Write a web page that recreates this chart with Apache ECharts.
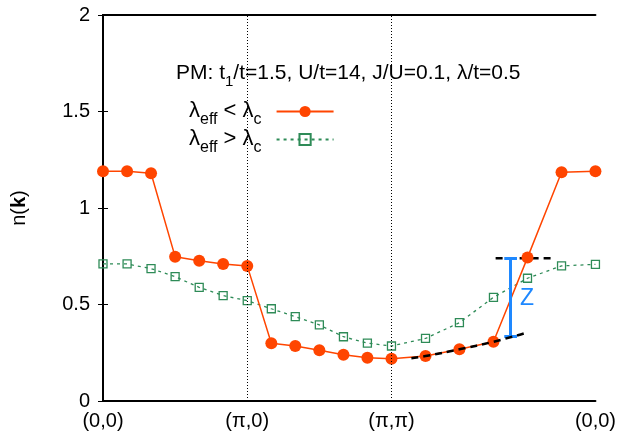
<!DOCTYPE html>
<html>
<head>
<meta charset="utf-8">
<script src="https://cdn.jsdelivr.net/npm/echarts@6/dist/echarts.min.js"></script>
<style>html,body{margin:0;padding:0;background:#fff;}#c{width:619px;height:439px;}</style>
</head>
<body>
<div id="c"></div>
<script>
// k-path positions: (0,0)->(pi,0)->(pi,pi)->(0,0), in units of pi along the path
const kPath = [0, 0.167, 0.333, 0.5, 0.667, 0.833, 1, 1.167, 1.333, 1.5, 1.667, 1.833, 2, 2.236, 2.471, 2.707, 2.943, 3.179, 3.414];
const redValues = [1.19, 1.19, 1.18, 0.748, 0.727, 0.71, 0.70, 0.299, 0.285, 0.263, 0.24, 0.224, 0.219, 0.233, 0.268, 0.307, 0.743, 1.185, 1.19];
const greenValues = [0.71, 0.71, 0.686, 0.644, 0.589, 0.546, 0.52, 0.478, 0.437, 0.394, 0.333, 0.30, 0.285, 0.324, 0.406, 0.537, 0.636, 0.70, 0.708];
const xTickValues = [0, 1, 2, 3.414];
const xTickLabels = ['(0,0)', '(\u03c0,0)', '(\u03c0,\u03c0)', '(0,0)'];
const fitCurveX = [2.138, 2.236, 2.471, 2.707, 2.917];
const fitCurveY = [0.222, 0.233, 0.268, 0.307, 0.35];
const topLevelX = [2.722, 3.103];
const topLevelY = 0.739;
const zBarX = 2.826, zBarTop = 0.739, zBarBottom = 0.333, zCapHalf = 0.044;
const seriesNames = ['lt', 'gt'];

const FONT = 'Liberation Sans, Arial, Helvetica, sans-serif';
const pair = (xs, ys) => xs.map((x, i) => [x, ys[i]]);

const chart = echarts.init(document.getElementById('c'));
const titleRich = {
  n: { fontSize: 21, fontFamily: FONT, fontWeight: 'normal', color: '#000', lineHeight: 24, verticalAlign: 'bottom' },
  s: { fontSize: 15, fontFamily: FONT, fontWeight: 'normal', color: '#000', lineHeight: 24, verticalAlign: 'bottom', padding: [0, 0, -5, 0] }
};
const legendRich = {
  n: { fontSize: 22, fontFamily: FONT, fontWeight: 'normal', color: '#000', lineHeight: 21, verticalAlign: 'bottom' },
  s: { fontSize: 16, fontFamily: FONT, fontWeight: 'normal', color: '#000', lineHeight: 21, verticalAlign: 'bottom', padding: [0, 0, -6, 0] },
  g: { width: 10 }
};
chart.setOption({
  animation: false,
  backgroundColor: '#fff',
  title: {
    text: '{n|PM: t}{s|1}{n|/t=1.5, U/t=14, J/U=0.1, \u03bb/t=0.5}',
    left: 171, top: 55,
    textStyle: { fontWeight: 'normal', rich: titleRich }
  },
  legend: {
    orient: 'vertical',
    left: 184, top: 95,
    align: 'right',
    itemWidth: 57, itemHeight: 14, itemGap: 0,
    data: seriesNames,
    formatter: function (name) {
      return name === 'lt'
        ? '{n|\u03bb}{s|eff}{n| < \u03bb}{s|c}{g|}'
        : '{n|\u03bb}{s|eff}{n| > \u03bb}{s|c}{g|}';
    },
    textStyle: { rich: legendRich }
  },
  grid: { left: 103, right: 22, top: 15, bottom: 38 },
  xAxis: [{
    type: 'value', min: 0, max: 3.414,
    axisLine: { show: true, onZero: false, lineStyle: { color: '#000', width: 2 } },
    axisTick: { show: false },
    splitLine: { show: false },
    axisLabel: {
      customValues: xTickValues,
      formatter: function (v) {
        const i = xTickValues.findIndex(t => Math.abs(t - v) < 1e-6);
        return i >= 0 ? xTickLabels[i] : '';
      },
      fontSize: 20, fontFamily: FONT, color: '#000', margin: 10
    }
  }, {
    type: 'value', min: 0, max: 3.414, position: 'top',
    axisLine: { show: true, onZero: false, lineStyle: { color: '#000', width: 2 } },
    axisTick: { show: false }, axisLabel: { show: false }, splitLine: { show: false }
  }],
  yAxis: [{
    type: 'value', min: 0, max: 2, interval: 0.5,
    name: '{n|n(}{b|k}{n|)}',
    nameLocation: 'middle', nameGap: 74, nameRotate: 90,
    nameTextStyle: { rich: {
      n: { fontSize: 20, fontFamily: FONT, color: '#000' },
      b: { fontSize: 20, fontFamily: FONT, color: '#000', fontWeight: 'bold' }
    } },
    axisLine: { show: true, lineStyle: { color: '#000', width: 2 } },
    axisTick: { show: true, inside: true, length: 5, lineStyle: { color: '#000', width: 1 } },
    splitLine: { show: false },
    axisLabel: { fontSize: 20, fontFamily: FONT, color: '#000', margin: 13 }
  }, {
    type: 'value', min: 0, max: 2, interval: 0.5, position: 'right',
    axisLine: { show: true, lineStyle: { color: '#000', width: 2 } },
    axisTick: { show: true, inside: true, length: 5, lineStyle: { color: '#000', width: 1 } },
    axisLabel: { show: false }, splitLine: { show: false }
  }],
  series: [
    {
      name: 'gt', type: 'line', data: pair(kPath, greenValues),
      symbol: 'rect', symbolSize: 8, showAllSymbol: true,
      itemStyle: { color: 'rgba(255,255,255,0)', borderColor: '#2e8b57', borderWidth: 1.3 },
      lineStyle: { color: '#2e8b57', width: 1.3, type: [3, 4] },
      z: 3,
      markLine: {
        silent: true, symbol: 'none', label: { show: false },
        lineStyle: { color: '#000', width: 1, type: [1, 2] },
        data: [{ xAxis: xTickValues[1] }, { xAxis: xTickValues[2] }]
      }
    },
    {
      name: 'lt', type: 'line', data: pair(kPath, redValues),
      symbol: 'circle', symbolSize: 12,
      itemStyle: { color: '#ff4500' },
      lineStyle: { color: '#ff4500', width: 1.5 },
      z: 4
    },
    {
      name: 'fit', type: 'line', data: pair(fitCurveX, fitCurveY), smooth: true,
      symbol: 'none', lineStyle: { color: '#000', width: 2.5, type: [7, 5] }, z: 5
    },
    {
      name: 'level', type: 'line', data: topLevelX.map(x => [x, topLevelY]),
      symbol: 'none', lineStyle: { color: '#000', width: 2.5, type: [7, 5] }, z: 2
    },
    {
      name: 'zbar', type: 'line', data: [], symbol: 'none', z: 6,
      markLine: {
        silent: true, symbol: 'none', label: { show: false },
        lineStyle: { color: '#1e88ff', width: 3, type: 'solid' },
        data: [
          [{ coord: [zBarX, zBarTop] }, { coord: [zBarX, zBarBottom] }],
          [{ coord: [zBarX - zCapHalf, zBarTop] }, { coord: [zBarX + zCapHalf, zBarTop] }],
          [{ coord: [zBarX - zCapHalf, zBarBottom] }, { coord: [zBarX + zCapHalf, zBarBottom] }]
        ]
      },
      markPoint: {
        silent: true, symbol: 'circle', symbolSize: 0,
        label: { show: true, formatter: 'Z', color: '#1e88ff', fontSize: 23, fontFamily: FONT, position: 'inside' },
        data: [{ coord: [2.94, 0.53] }]
      }
    }
  ]
});
</script>
</body>
</html>
